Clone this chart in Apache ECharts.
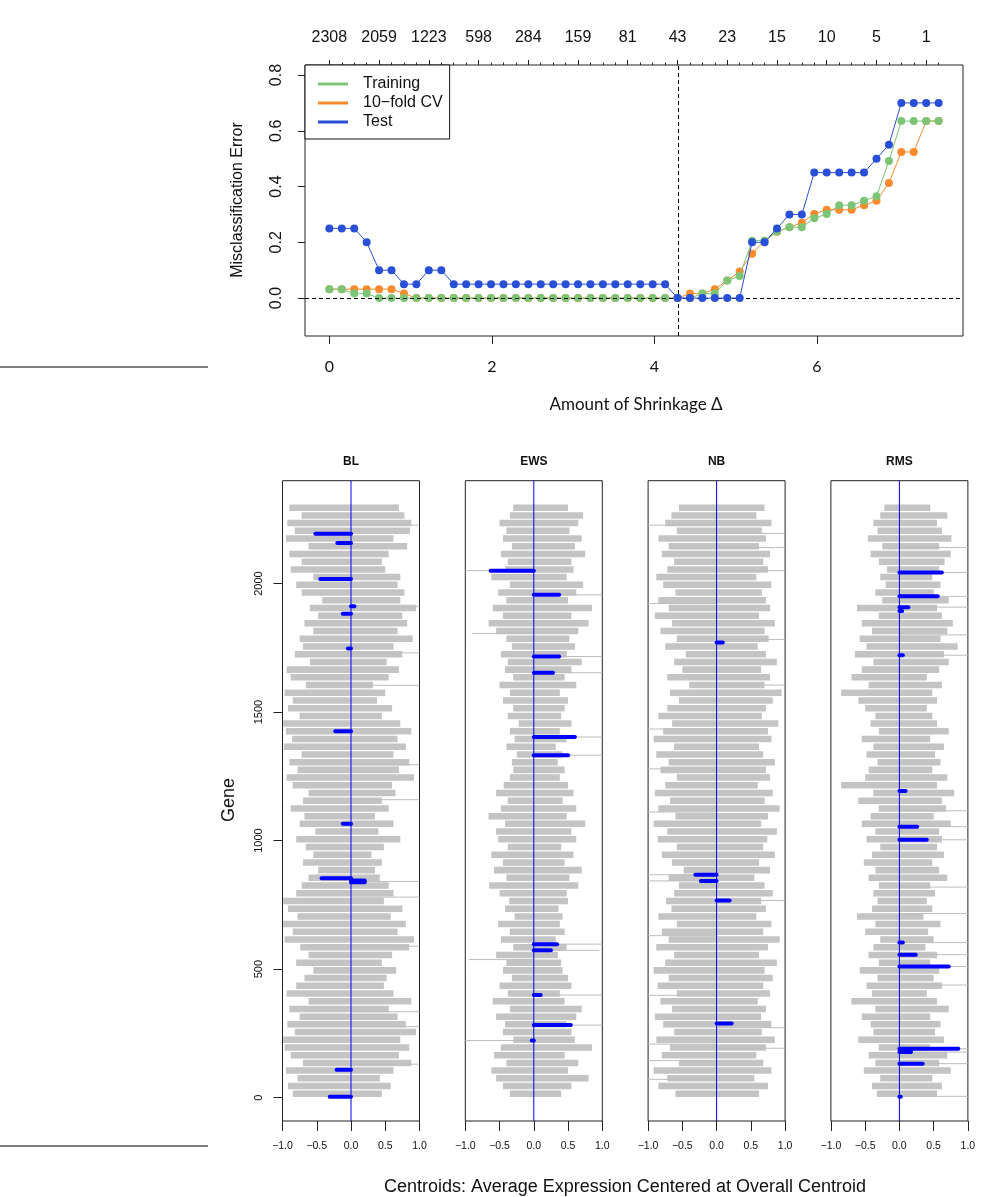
<!DOCTYPE html>
<html><head><meta charset="utf-8">
<script src="https://cdn.jsdelivr.net/npm/echarts@6.0.0/dist/echarts.min.js"></script>
<style>html,body{margin:0;padding:0;background:#fff}#c{width:1006px;height:1197px}</style>
</head><body><div id="c"></div>
<script>
// ---------- Top chart data ----------
const thresholds = [0,0.153,0.306,0.459,0.612,0.765,0.918,1.071,1.224,1.378,1.531,1.684,1.837,1.990,2.143,2.296,2.449,2.602,2.755,2.908,3.061,3.214,3.367,3.520,3.673,3.827,3.980,4.133,4.286,4.439,4.592,4.745,4.898,5.051,5.204,5.357,5.510,5.663,5.816,5.969,6.122,6.276,6.429,6.582,6.735,6.888,7.041,7.194,7.347,7.500];
const trainErr = [0.032,0.032,0.016,0.016,0,0,0,0,0,0, 0,0,0,0,0,0,0,0,0,0, 0,0,0,0,0,0,0,0,0,0, 0.016,0.016,0.063,0.079,0.206,0.206,0.238,0.254,0.254,0.286, 0.302,0.333,0.333,0.349,0.365,0.492,0.635,0.635,0.635,0.635];
const cvErr = [0.032,0.032,0.032,0.032,0.032,0.032,0.016,0,0,0, 0,0,0,0,0,0,0,0,0,0, 0,0,0,0,0,0,0,0,0,0.016, 0.016,0.032,0.063,0.095,0.159,0.206,0.238,0.254,0.270,0.302, 0.317,0.317,0.317,0.333,0.349,0.413,0.524,0.524,0.635,0.635];
const testErr = [0.25,0.25,0.25,0.2,0.1,0.1,0.05,0.05,0.1,0.1, 0.05,0.05,0.05,0.05,0.05,0.05,0.05,0.05,0.05,0.05, 0.05,0.05,0.05,0.05,0.05,0.05,0.05,0.05,0,0, 0,0,0,0,0.2,0.2,0.25,0.3,0.3,0.45, 0.45,0.45,0.45,0.45,0.5,0.55,0.7,0.7,0.7,0.7];
const topTickValues = [0,0.612,1.224,1.837,2.449,3.061,3.673,4.286,4.898,5.510,6.122,6.735,7.347];
const topTickLabels = ['2308','2059','1223','598','284','159','81','43','23','15','10','5','1'];
const bottomTicks = [0,2,4,6];
const yTicksTop = [0,0.2,0.4,0.6,0.8];
const chosenThreshold = 4.3;

// ---------- Centroid panels data ----------
const classNames = ['BL','EWS','NB','RMS'];
const ROW_STEP = 30; // each gray row covers 30 genes, starting at gene 0
const blLeft = [-0.85,-0.92,-0.78,-0.95,-0.70,-0.88,-0.97, -0.99,-0.82,-0.93,-0.75, -0.90,-0.62,-0.94,-0.80, -0.68,-0.55,-0.80,-0.62,-0.74, -0.97,-0.85,-0.99,-0.78, -0.92,-0.99,-0.80,-0.72, -0.62,-0.48,-0.70,-0.55, -0.66,-0.80,-0.52,-0.75,-0.68, -0.88,-0.70,-0.62,-0.85, -0.94,-0.78,-0.90,-0.72, -0.98,-0.86,-0.95, -0.99,-0.75,-0.92,-0.85, -0.97,-0.66,-0.88, -0.94,-0.60,-0.82,-0.70, -0.75,-0.55,-0.68, -0.48,-0.60,-0.42, -0.72,-0.80,-0.55, -0.88,-0.72,-0.90, -0.62,-0.95,-0.82, -0.93,-0.72,-0.90];
const blRight = [0.45,0.58,0.42,0.62,0.88,0.70,0.85, 0.72,0.95,0.80,0.68, 0.55,0.88,0.62,0.48, 0.52,0.66,0.45,0.60,0.85, 0.92,0.68,0.80,0.58, 0.75,0.48,0.62,0.55, 0.42,0.35,0.45,0.30, 0.48,0.72,0.40,0.62,0.35, 0.55,0.45,0.65,0.60, 0.92,0.70,0.85,0.62, 0.80,0.68,0.88, 0.72,0.45,0.60,0.38, 0.50,0.32,0.55, 0.70,0.52,0.75,0.62, 0.90,0.68,0.82, 0.75,0.95,0.72, 0.78,0.68,0.72, 0.50,0.45,0.55, 0.82,0.62,0.86, 0.88,0.78,0.70];
const ewsLeft = [-0.35,-0.45,-0.55,-0.62,-0.40,-0.58,-0.48,-0.30,-0.45, -0.42,-0.55,-0.35,-0.60,-0.38,-0.50,-0.32,-0.45, -0.40,-0.55,-0.30,-0.48,-0.35,-0.52,-0.28,-0.42,-0.36, -0.50,-0.65,-0.40,-0.58,-0.45,-0.62,-0.38,-0.52, -0.55,-0.42,-0.66,-0.48,-0.38,-0.55,-0.44,-0.35,-0.30, -0.32,-0.25,-0.40,-0.28,-0.35,-0.22,-0.38,-0.30, -0.45,-0.35,-0.50,-0.30,-0.42,-0.38,-0.48,-0.32,-0.40, -0.55,-0.66,-0.45,-0.60,-0.40,-0.52,-0.35,-0.62,-0.42, -0.38,-0.48,-0.32,-0.45,-0.40,-0.50,-0.35,-0.30];
const ewsRight = [0.40,0.55,0.80,0.50,0.65,0.45,0.85,0.60,0.55, 0.48,0.62,0.70,0.45,0.38,0.55,0.50,0.42, 0.40,0.35,0.48,0.32,0.45,0.38,0.42,0.36,0.50, 0.48,0.65,0.52,0.70,0.45,0.58,0.40,0.62, 0.55,0.75,0.48,0.62,0.42,0.58,0.50,0.38,0.45, 0.35,0.42,0.32,0.48,0.38,0.55,0.40,0.45, 0.50,0.38,0.62,0.45,0.55,0.70,0.48,0.60,0.52, 0.65,0.80,0.55,0.85,0.50,0.62,0.72,0.48,0.58, 0.55,0.75,0.60,0.70,0.52,0.65,0.72,0.50];
const nbLeft = [-0.60,-0.85,-0.72,-0.92,-0.55,-0.80,-0.68,-0.88,-0.62, -0.78,-0.90,-0.65,-0.82,-0.58,-0.86,-0.70,-0.92, -0.75,-0.62,-0.88,-0.70,-0.80,-0.58,-0.85,-0.66,-0.74, -0.62,-0.55,-0.70,-0.48,-0.65,-0.80,-0.58,-0.86, -0.72,-0.92,-0.60,-0.85,-0.68,-0.90,-0.75,-0.58,-0.82, -0.70,-0.88,-0.62,-0.92,-0.78,-0.65,-0.85,-0.72, -0.55,-0.68,-0.40,-0.72,-0.50,-0.62,-0.45,-0.75,-0.58, -0.82,-0.65,-0.90,-0.70,-0.85,-0.60,-0.78,-0.88,-0.72, -0.62,-0.80,-0.70,-0.85,-0.58,-0.75,-0.66,-0.55];
const nbRight = [0.62,0.75,0.55,0.80,0.68,0.58,0.72,0.85,0.66, 0.80,0.65,0.72,0.60,0.78,0.68,0.82,0.70, 0.88,0.62,0.75,0.92,0.68,0.80,0.58,0.72,0.65, 0.82,0.70,0.55,0.78,0.62,0.85,0.68,0.74, 0.88,0.65,0.75,0.92,0.70,0.82,0.60,0.78,0.72, 0.85,0.68,0.62,0.80,0.75,0.90,0.66,0.72, 0.82,0.95,0.70,0.78,0.65,0.88,0.72,0.60,0.76, 0.70,0.85,0.62,0.78,0.72,0.66,0.80,0.58,0.75, 0.68,0.78,0.62,0.72,0.66,0.80,0.58,0.70];
const rmsLeft = [-0.33,-0.40,-0.28,-0.52,-0.35,-0.45,-0.30,-0.60,-0.38, -0.42,-0.55,-0.35,-0.70,-0.40,-0.48,-0.32,-0.58, -0.30,-0.45,-0.38,-0.28,-0.50,-0.35,-0.62,-0.40,-0.32, -0.38,-0.30,-0.45,-0.35,-0.52,-0.40,-0.28,-0.48, -0.35,-0.55,-0.42,-0.30,-0.60,-0.38,-0.85,-0.50,-0.45, -0.32,-0.48,-0.38,-0.55,-0.30,-0.42,-0.35,-0.50, -0.60,-0.85,-0.45,-0.70,-0.55,-0.38,-0.65,-0.48,-0.58, -0.40,-0.55,-0.30,-0.62,-0.25,-0.35,-0.20,-0.28,-0.18, -0.30,-0.42,-0.25,-0.46,-0.32,-0.38,-0.28,-0.22];
const rmsRight = [0.55,0.62,0.48,0.75,0.58,0.70,0.45,0.65,0.52, 0.60,0.45,0.72,0.55,0.40,0.62,0.50,0.58, 0.45,0.55,0.38,0.50,0.42,0.60,0.35,0.48,0.40, 0.52,0.45,0.70,0.58,0.48,0.65,0.55,0.62, 0.58,0.75,0.50,0.68,0.62,0.80,0.55,0.70,0.48, 0.60,0.52,0.65,0.45,0.72,0.55,0.48,0.40, 0.55,0.48,0.62,0.40,0.58,0.72,0.65,0.85,0.60, 0.70,0.78,0.62,0.55,0.72,0.50,0.60,0.48,0.58, 0.66,0.75,0.58,0.76,0.62,0.55,0.70,0.45];
// single long gray lines (gene, centroid value, clipped at the panel edge)
const blSpikes = [[2227,1],[1910,1],[1730,1],[1604,1],[1295,1],[1159,1],[841,1],[780,1],[589,1],[334,1],[276,1],[130,1]];
const ewsSpikes = [[2050,-1],[1956,1],[1806,-0.9],[1716,1],[1653,1],[1403,1],[1332,1],[597,1],[573,0.95],[537,-0.95],[399,1],[282,1],[222,-1]];
const nbSpikes = [[2227,-1],[1922,-1],[1434,-1],[1279,-1],[1111,-1],[867,-1],[843,-1],[630,-1],[398,-1],[208,-1],[144,-1],[71,-1],[2195,1],[2140,1],[2050,1],[1782,1],[1605,1],[767,1],[272,1],[192,1]];
const rmsSpikes = [[2140,1],[2043,1],[1950,1],[1908,1],[1800,1],[1721,1],[1116,1],[1054,1],[1003,1],[819,1],[716,1],[603,1],[556,1],[510,1],[438,1],[190,1],[177,1],[132,1],[5,1]];
// shrunken centroids of the surviving genes (gene, value)
const blShrunk = [[2194,-0.52],[2158,-0.20],[2018,-0.45],[1912,0.05],[1882,-0.12],[1747,-0.045],[1425,-0.23],[1065,-0.12],[853,-0.43],[845,0.20],[838,0.20],[108,-0.21],[3,-0.31]];
const ewsShrunk = [[2050,-0.63],[1956,0.37],[1716,0.37],[1653,0.28],[1403,0.60],[1332,0.50],[597,0.34],[573,0.25],[399,0.10],[282,0.54],[222,-0.03]];
const nbShrunk = [[1771,0.09],[867,-0.31],[843,-0.23],[767,0.19],[288,0.22]];
const rmsShrunk = [[2043,0.62],[1950,0.56],[1908,0.13],[1893,0.04],[1721,0.05],[1193,0.09],[1054,0.26],[1003,0.40],[603,0.05],[556,0.24],[510,0.72],[190,0.86],[177,0.17],[132,0.34],[3,0.02]];
const geneTicks = [0,500,1000,1500,2000];
const geneRange = [-91, 2400];

const panelLeft = [blLeft, ewsLeft, nbLeft, rmsLeft];
const panelRight = [blRight, ewsRight, nbRight, rmsRight];
const panelSpikes = [blSpikes, ewsSpikes, nbSpikes, rmsSpikes];
const panelShrunk = [blShrunk, ewsShrunk, nbShrunk, rmsShrunk];

const HELV = '"Liberation Sans", Arial, Helvetica, sans-serif';
const CMS = 'Lato, "DejaVu Sans", sans-serif';
const cGreen = '#7cc576', cOrange = '#f88b2e', cBlue = '#2a4fd7';

const chart = echarts.init(document.getElementById('c'), null, {renderer:'canvas'});

const noLine = () => ({show:false, onZero:false});
const grids = [{left:305, top:65, width:658, height:271, show:true, borderColor:'#222', borderWidth:1, backgroundColor:'transparent', outerBoundsMode:'none'}];
const xAxes = [
  {gridIndex:0, type:'value', min:-0.3, max:7.8, position:'bottom',
   axisLine:noLine(), splitLine:{show:false},
   axisTick:{show:true, customValues:bottomTicks, length:8, lineStyle:{color:'#222'}},
   axisLabel:{customValues:bottomTicks, fontFamily:CMS, fontSize:16, color:'#111', margin:23}},
  {gridIndex:0, type:'value', min:-0.3, max:7.8, position:'top', offset:0,
   axisLine:noLine(), splitLine:{show:false},
   axisTick:{show:true, customValues:topTickValues, length:5, lineStyle:{color:'#222'}},
   axisLabel:{customValues:topTickValues, fontFamily:HELV, fontSize:16, color:'#111', margin:19,
     formatter:(v)=>{const i=topTickValues.findIndex(t=>Math.abs(t-v)<1e-6); return i>=0?topTickLabels[i]:'';}}},
  {gridIndex:0, type:'value', min:-0.3, max:7.8, position:'top', offset:0,
   axisLine:noLine(), splitLine:{show:false},
   axisTick:{show:true, customValues:thresholds, length:2.5, lineStyle:{color:'#222'}},
   axisLabel:{show:false}}
];
const yAxes = [
  {gridIndex:0, type:'value', min:-0.136, max:0.836, position:'left',
   axisLine:noLine(), splitLine:{show:false},
   axisTick:{show:true, customValues:yTicksTop, length:7, lineStyle:{color:'#222'}},
   axisLabel:{customValues:yTicksTop, rotate:90, fontFamily:HELV, fontSize:16, color:'#111', margin:20,
     formatter:(v)=>v.toFixed(1)}}
];

const series = [
  {name:'10−fold CV', type:'line', xAxisIndex:0, yAxisIndex:0, data:thresholds.map((t,i)=>[t,cvErr[i]]),
   symbol:'circle', symbolSize:8, lineStyle:{width:1, color:cOrange}, itemStyle:{color:cOrange}, z:3},
  {name:'Training', type:'line', xAxisIndex:0, yAxisIndex:0, data:thresholds.map((t,i)=>[t,trainErr[i]]),
   symbol:'circle', symbolSize:8, lineStyle:{width:1, color:cGreen}, itemStyle:{color:cGreen}, z:4},
  {name:'Test', type:'line', xAxisIndex:0, yAxisIndex:0, data:thresholds.map((t,i)=>[t,testErr[i]]),
   symbol:'circle', symbolSize:8, lineStyle:{width:1, color:cBlue}, itemStyle:{color:cBlue}, z:5,
   markLine:{silent:true, symbol:'none', label:{show:false}, animation:false,
     lineStyle:{color:'#000', type:[4,3], width:1},
     data:[{yAxis:0},{xAxis:chosenThreshold}]}}
];

const PANEL_L0 = 282.5, PANEL_STEP = 182.8, PANEL_W = 137, PANEL_T = 480.7, PANEL_H = 640.3;

function grayRows(params, api){
  const g = api.value(0), L = api.value(1), R = api.value(2);
  const a = api.coord([L, g + ROW_STEP]);
  const b = api.coord([R, g]);
  return {type:'rect', shape:{x:a[0], y:a[1] + 0.6, width:b[0]-a[0], height:b[1]-a[1] - 1.2}, style:{fill:'#c4c4c4'}};
}
function segment(color, width, cap){
  return function(params, api){
    const g = api.value(0), v = api.value(1);
    const a = api.coord([0, g]), b = api.coord([v, g]);
    return {type:'line', shape:{x1:a[0], y1:a[1], x2:b[0], y2:b[1]}, style:{stroke:color, lineWidth:width, lineCap:cap}};
  };
}
function zeroLine(params, api){
  const a = api.coord([0, api.value(0)]), b = api.coord([0, api.value(1)]);
  return {type:'line', shape:{x1:a[0], y1:a[1], x2:b[0], y2:b[1]}, style:{stroke:'#0000ff', lineWidth:1}};
}

for (let p = 0; p < 4; p++){
  const xi = 3 + p, yi = 1 + p, gi = 1 + p;
  grids.push({left:PANEL_L0 + PANEL_STEP*p, top:PANEL_T, width:PANEL_W, height:PANEL_H, show:true,
    borderColor:'#222', borderWidth:1, backgroundColor:'transparent', outerBoundsMode:'none'});
  xAxes.push({gridIndex:gi, type:'value', min:-1, max:1, interval:0.5, position:'bottom',
    axisLine:noLine(), splitLine:{show:false},
    axisTick:{show:true, length:10, lineStyle:{color:'#222'}},
    axisLabel:{fontFamily:HELV, fontSize:10.5, color:'#111', margin:20, showMinLabel:true, showMaxLabel:true,
      formatter:(v)=>v.toFixed(1).replace('-','−')}});
  yAxes.push({gridIndex:gi, type:'value', min:geneRange[0], max:geneRange[1], position:'left',
    axisLine:noLine(), splitLine:{show:false},
    axisTick:{show:p===0, customValues:geneTicks, length:9, lineStyle:{color:'#222'}},
    axisLabel:{show:p===0, customValues:geneTicks, rotate:90, fontFamily:HELV, fontSize:11, color:'#111', margin:18,
      formatter:(v)=>String(v)}});
  const rows = panelLeft[p].map((L,k)=>[k*ROW_STEP, L, panelRight[p][k]]);
  series.push({type:'custom', xAxisIndex:xi, yAxisIndex:yi, renderItem:grayRows, data:rows,
    encode:{x:[1,2], y:0}, z:1, silent:true});
  series.push({type:'custom', xAxisIndex:xi, yAxisIndex:yi, renderItem:segment('#bdbdbd',1,'butt'),
    data:panelSpikes[p], encode:{x:1, y:0}, z:2, silent:true});
  series.push({type:'custom', xAxisIndex:xi, yAxisIndex:yi, renderItem:zeroLine,
    data:[[geneRange[0], geneRange[1]]], encode:{y:[0,1]}, z:3, silent:true});
  series.push({type:'custom', xAxisIndex:xi, yAxisIndex:yi, renderItem:segment('#0000ff',4,'round'),
    data:panelShrunk[p], encode:{x:1, y:0}, z:6, silent:true});
}

const graphics = [
  {type:'line', shape:{x1:0, y1:367, x2:208, y2:367}, style:{stroke:'#555', lineWidth:1.3}},
  {type:'line', shape:{x1:0, y1:1146, x2:208, y2:1146}, style:{stroke:'#555', lineWidth:1.3}},
  {type:'text', x:238, y:200, rotation:Math.PI/2, style:{text:'Misclassification Error', font:'16px '+HELV, fill:'#111', textAlign:'center', textVerticalAlign:'middle'}},
  {type:'text', x:636, y:405, style:{text:'Amount of Shrinkage Δ', font:'17px '+CMS, fill:'#111', textAlign:'center', textVerticalAlign:'middle'}},
  {type:'text', x:229, y:800, rotation:Math.PI/2, style:{text:'Gene', font:'18px '+HELV, fill:'#111', textAlign:'center', textVerticalAlign:'middle'}},
  {type:'text', x:625, y:1187, style:{text:'Centroids: Average Expression Centered at Overall Centroid', font:'18px '+HELV, fill:'#111', textAlign:'center', textVerticalAlign:'middle'}}
];
classNames.forEach((n,p)=>{
  graphics.push({type:'text', x:PANEL_L0 + PANEL_STEP*p + PANEL_W/2, y:462,
    style:{text:n, font:'bold 12px '+HELV, fill:'#111', textAlign:'center', textVerticalAlign:'middle'}});
});

chart.setOption({
  animation:false,
  backgroundColor:'#fff',
  grid:grids, xAxis:xAxes, yAxis:yAxes, series:series, graphic:graphics,
  legend:{show:true, orient:'vertical', left:305, top:65, data:['Training','10−fold CV','Test'],
    selectedMode:false, icon:'rect', itemWidth:30, itemHeight:3, itemGap:3,
    backgroundColor:'#fff', borderColor:'#111', borderWidth:1, borderRadius:0,
    padding:[11,7,9,13],
    textStyle:{fontFamily:HELV, fontSize:16, color:'#111', padding:[0,0,0,10]}}
});
</script></body></html>
